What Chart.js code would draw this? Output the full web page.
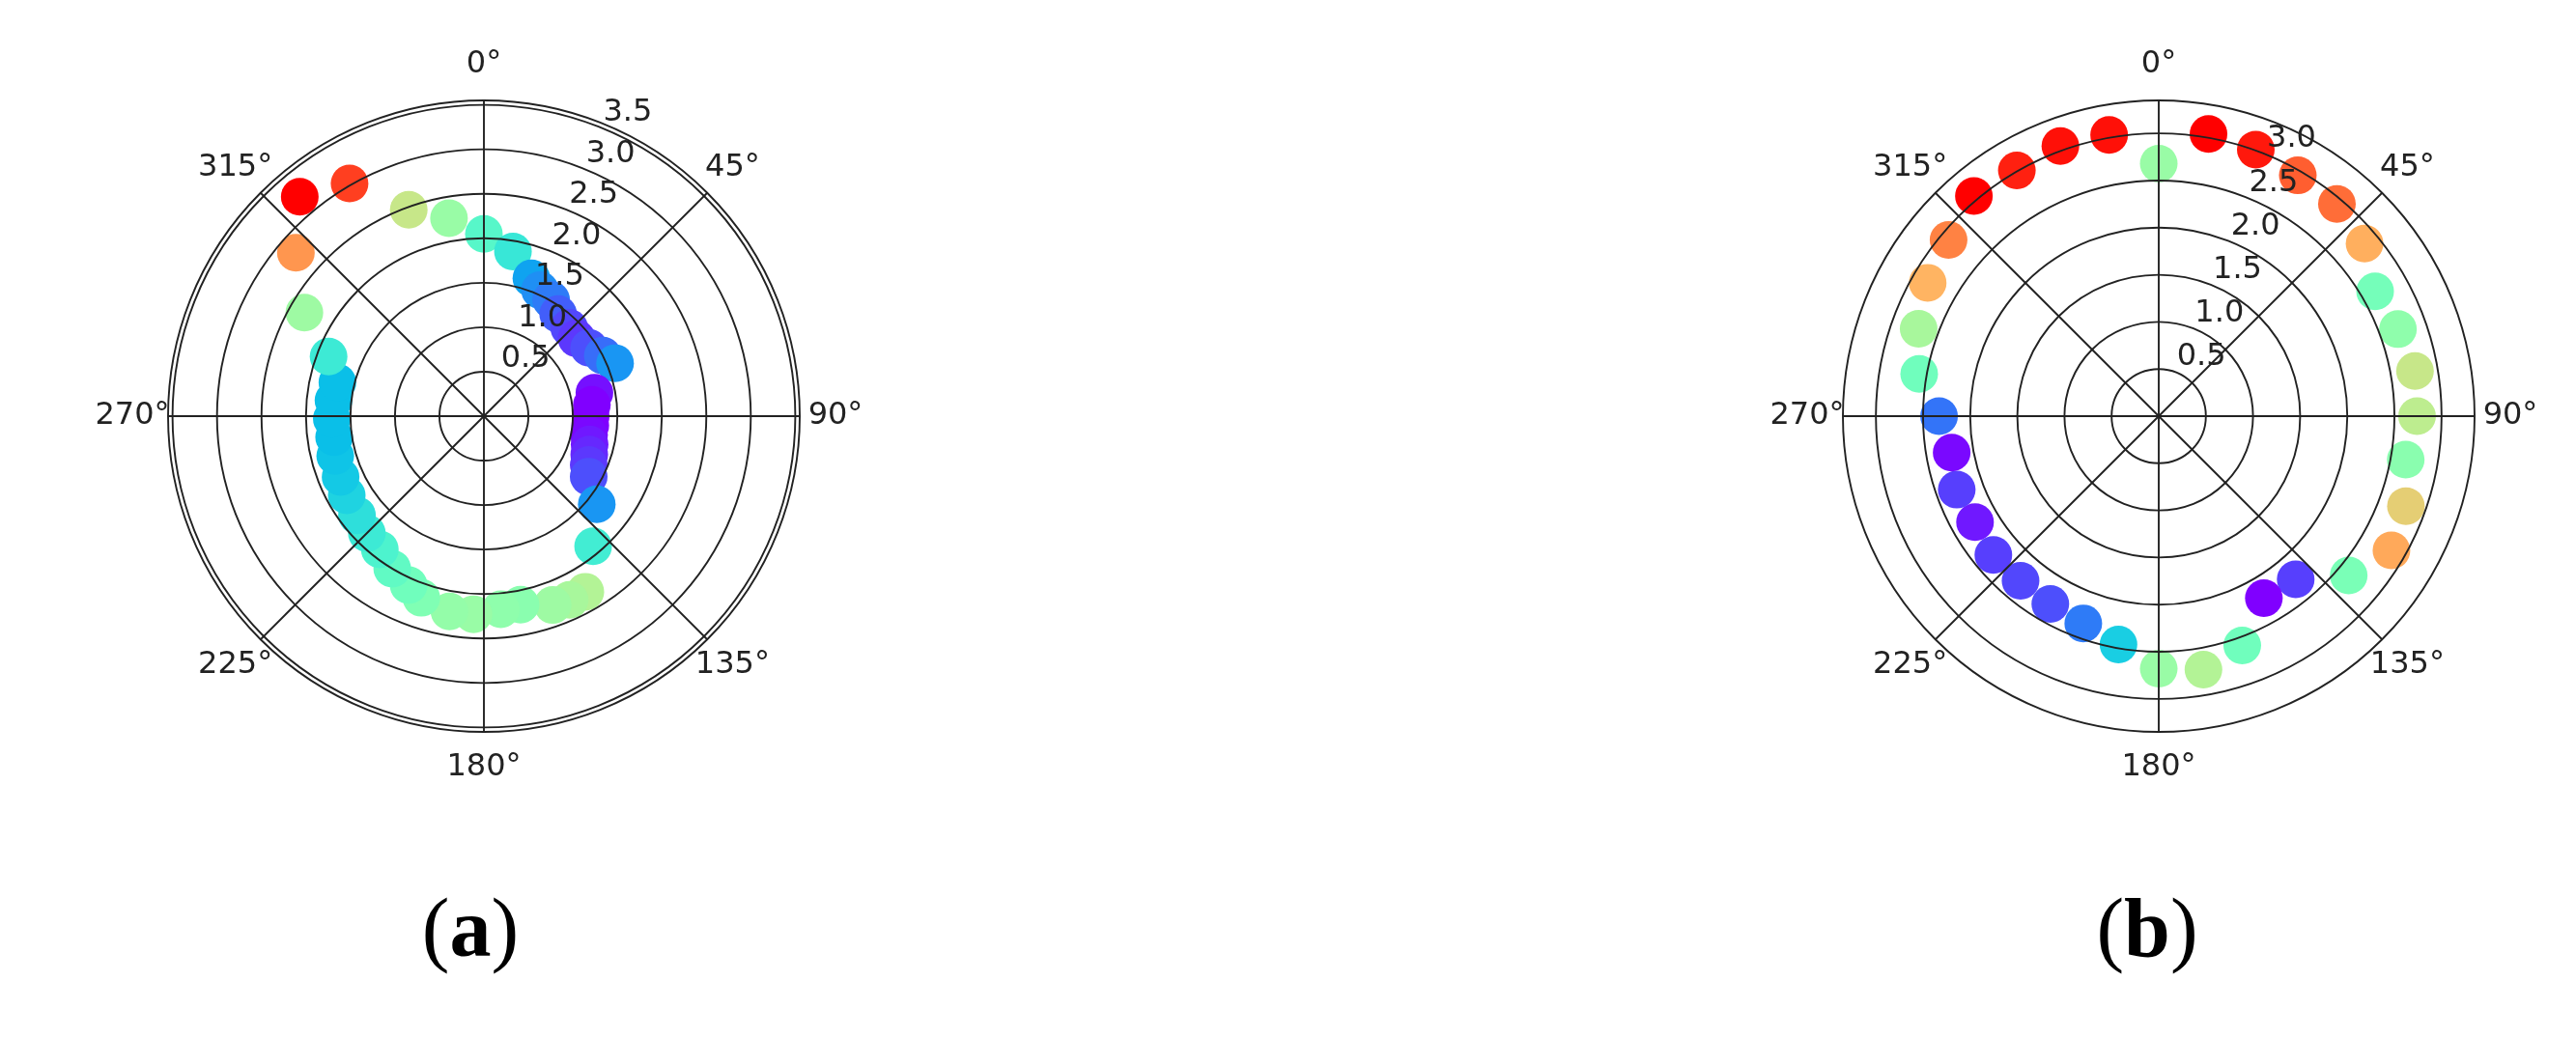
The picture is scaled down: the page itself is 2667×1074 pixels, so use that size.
<!DOCTYPE html>
<html>
<head>
<meta charset="utf-8">
<script src="https://cdn.jsdelivr.net/npm/chart.js@4.4.1/dist/chart.umd.min.js"></script>
<style>
  html, body { margin: 0; padding: 0; background: #fff; overflow: hidden; }
  body { width: 2667px; height: 1074px; position: relative; }
  .panel { position: absolute; top: -19px; width: 900px; height: 900px; }
  .caption {
    position: absolute; top: 918px; width: 300px; text-align: center;
    font-family: "Liberation Serif", serif; font-size: 86px; line-height: 86px; color: #000;
  }
</style>
</head>
<body>
<div class="panel" style="left:51px"><canvas id="chartA" width="900" height="900"></canvas></div>
<div class="panel" style="left:1785px"><canvas id="chartB" width="900" height="900"></canvas></div>
<div class="caption" style="left:337px">(<b>a</b>)</div>
<div class="caption" style="left:2073px">(<b>b</b>)</div>
<script>
// angle labels around both plots
const thetaTicks = [0, 45, 90, 135, 180, 225, 270, 315];
const thetaLabels = ["0°", "45°", "90°", "135°", "180°", "225°", "270°", "315°"];

// panel (a): angle in degrees (clockwise from top), radius, colour value (0 violet .. 1 red)
const anglesA = [0, 10, 19, 24, 30, 36, 44, 50, 57, 63, 68, 78, 84, 90, 95, 100, 105, 110, 115, 120,
  128, 140, 150, 155, 160, 169, 175, 183, 190, 199, 204, 211, 218, 225, 232, 240, 247, 255, 262, 269,
  276, 283, 291, 300, 311, 320, 330, 340, 350];
const radiiA = [2.05, 1.88, 1.64, 1.55, 1.51, 1.42, 1.38, 1.36, 1.41, 1.50, 1.59, 1.27, 1.22, 1.20, 1.20, 1.20, 1.23, 1.26, 1.30, 1.36,
  1.61, 1.91, 2.28, 2.28, 2.26, 2.16, 2.18, 2.23, 2.23, 2.16, 2.08, 2.00, 1.90, 1.86, 1.81, 1.78, 1.75, 1.73, 1.70, 1.71,
  1.70, 1.69, 1.87, 2.33, 2.80, 3.22, 3.02, 2.47, 2.26];
const colorA = [0.42, 0.36, 0.22, 0.19, 0.16, 0.12, 0.09, 0.07, 0.10, 0.14, 0.20, 0.02, 0.00, 0.00, 0.00, 0.01, 0.03, 0.05, 0.07, 0.10,
  0.20, 0.38, 0.60, 0.58, 0.56, 0.52, 0.53, 0.55, 0.54, 0.50, 0.47, 0.44, 0.40, 0.37, 0.34, 0.31, 0.29, 0.28, 0.27, 0.27,
  0.27, 0.27, 0.37, 0.56, 0.80, 1.00, 0.92, 0.64, 0.55];
const ringsA = [0.5, 1.0, 1.5, 2.0, 2.5, 3.0, 3.5];
const rmaxA = 3.55;

// panel (b)
const anglesB = [0, 10, 20, 30, 40, 50, 60, 70, 80, 90, 100, 110, 120, 130, 140, 150, 160, 170,
  180, 190, 200, 210, 220, 230, 240, 250, 260, 270, 280, 290, 300, 310, 320, 330, 340, 350];
const radiiB = [2.68, 3.04, 3.01, 2.95, 2.94, 2.85, 2.65, 2.70, 2.76, 2.74, 2.66, 2.79, 2.85, 2.63, 2.26, 2.23, 2.59, 2.73,
  2.68, 2.46, 2.34, 2.30, 2.28, 2.29, 2.25, 2.28, 2.23, 2.33, 2.58, 2.71, 2.83, 2.91, 3.05, 3.01, 3.05, 3.03];
const colorB = [0.55, 1.00, 0.97, 0.88, 0.86, 0.76, 0.48, 0.53, 0.64, 0.62, 0.52, 0.70, 0.77, 0.49, 0.08, 0.00, 0.47, 0.60,
  0.55, 0.30, 0.16, 0.10, 0.09, 0.08, 0.03, 0.08, 0.01, 0.15, 0.47, 0.58, 0.75, 0.83, 1.00, 0.96, 0.98, 0.98];
const ringsB = [0.5, 1.0, 1.5, 2.0, 2.5, 3.0];
const rmaxB = 3.35;

// the radial scale gets one slot per half degree, so a point lands at its own angle
const SLOTS = 720;
const slotLabels = Array.from({ length: SLOTS }, (_, i) => i / 2);

function spread(angles, values, empty) {
  const out = new Array(SLOTS).fill(empty);
  angles.forEach((a, i) => {
    out[Math.round(a * 2) % SLOTS] = values[i];
  });
  return out;
}

// matplotlib "rainbow" colormap
function rainbow(t) {
  const r = Math.min(1, Math.abs(2 * t - 0.5));
  const g = Math.sin(Math.PI * t);
  const b = Math.cos((Math.PI * t) / 2);
  return `rgb(${Math.round(r * 255)}, ${Math.round(g * 255)}, ${Math.round(b * 255)})`;
}

const LINE = "#222";
const LINE_W = 1.9;

// outer circle, angle labels and radial labels (matplotlib style)
const polarDecor = {
  id: "polarDecor",
  afterDraw(chart, args, opts) {
    const scale = chart.scales.r;
    const ctx = chart.ctx;
    ctx.save();
    ctx.strokeStyle = LINE;
    ctx.lineWidth = LINE_W;
    ctx.beginPath();
    ctx.arc(scale.xCenter, scale.yCenter, scale.drawingArea, 0, Math.PI * 2);
    ctx.stroke();

    ctx.font = '32px "DejaVu Sans"';
    ctx.fillStyle = "#222";
    ctx.textAlign = "center";
    ctx.textBaseline = "middle";
    thetaTicks.forEach((deg, i) => {
      const p = scale.getPointPosition(deg * 2, scale.drawingArea + 37);
      ctx.fillText(thetaLabels[i], p.x, p.y);
    });

    // radial labels sit along 22.5 degrees
    ctx.textAlign = "left";
    ctx.textBaseline = "alphabetic";
    opts.rings.forEach((v) => {
      const p = scale.getPointPositionForValue(45, v);
      ctx.fillText(v.toFixed(1), p.x, p.y - 8);
    });
    ctx.restore();
  },
};

function makeChart(id, angles, radii, colors, rmax, rings) {
  return new Chart(document.getElementById(id), {
    type: "radar",
    data: {
      labels: slotLabels,
      datasets: [
        {
          data: spread(angles, radii, null),
          showLine: false,
          fill: false,
          borderWidth: 0,
          pointRadius: 19.5,
          pointHoverRadius: 19.5,
          pointBorderWidth: 0,
          pointBorderColor: "rgba(0,0,0,0)",
          pointBackgroundColor: spread(angles, colors.map(rainbow), "rgba(0,0,0,0)"),
        },
      ],
    },
    options: {
      responsive: false,
      animation: false,
      layout: { padding: 123 },
      plugins: {
        legend: { display: false },
        tooltip: { enabled: false },
        polarDecor: { rings: rings },
      },
      scales: {
        r: {
          min: 0,
          max: rmax,
          bounds: "data",
          z: 1,
          ticks: { display: false, stepSize: 0.5, includeBounds: false },
          pointLabels: { display: false },
          grid: { circular: true, color: LINE, lineWidth: LINE_W, z: 1 },
          angleLines: {
            color: LINE,
            lineWidth: (ctx) => (ctx.index % 90 === 0 ? LINE_W : 0),
          },
        },
      },
    },
    plugins: [polarDecor],
  });
}

makeChart("chartA", anglesA, radiiA, colorA, rmaxA, ringsA);
makeChart("chartB", anglesB, radiiB, colorB, rmaxB, ringsB);
</script>
</body>
</html>
